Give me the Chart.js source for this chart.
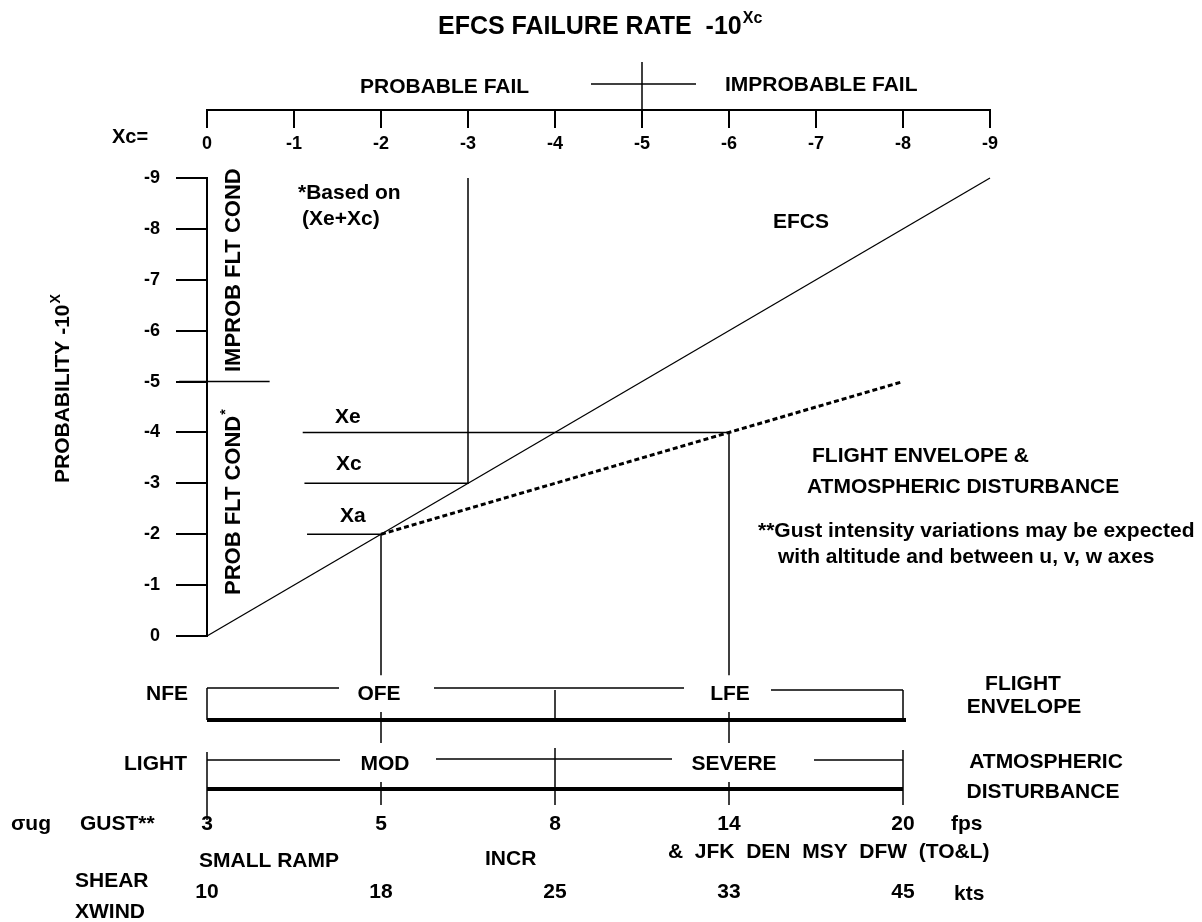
<!DOCTYPE html>
<html lang="en">
<head>
    <meta charset="UTF-8">
    <title>EFCS Failure Rate</title>
    <script src="https://cdn.jsdelivr.net/npm/chart.js"></script>
    <style>
        body {
            margin: 0;
            background-color: #ffffff;
        }
        .chart-box {
            position: relative;
            width: 1202px;
            height: 922px;
        }
    </style>
</head>
<body>
    <div class="chart-box">
        <canvas id="efcsChart"></canvas>
    </div>

    <script>
        // Exponent ticks for both axes
        const xcTicks = [0, -1, -2, -3, -4, -5, -6, -7, -8, -9];
        const probTicks = [0, -1, -2, -3, -4, -5, -6, -7, -8, -9];

        // EFCS line (Xe + Xc)
        const efcsLine = [{ x: 0, y: 0 }, { x: -9, y: -9 }];
        // Flight envelope & atmospheric disturbance (dotted)
        const envelopeLine = [{ x: -2, y: -2 }, { x: -6, y: -4 }, { x: -8, y: -5 }];
        // Xe, Xc, Xa guide lines
        const xeLine = [{ x: -1.1, y: -4 }, { x: -6, y: -4 }, { x: -6, y: 0.77 }];
        const xcLine = [{ x: -1.12, y: -3 }, { x: -3, y: -3 }, { x: -3, y: -9 }];
        const xaLine = [{ x: -1.15, y: -2 }, { x: -2, y: -2 }, { x: -2, y: 0.77 }];
        // split between probable / improbable flight conditions
        const condSplit = [{ x: 0.32, y: -5 }, { x: -0.72, y: -5 }];

        // Bottom scales, placed under Xc positions
        const gustXc = [0, -2, -4, -6, -8];
        const gustFps = [3, 5, 8, 14, 20];
        const xwindKts = [10, 18, 25, 33, 45];

        const FONT = '"Liberation Sans", Arial, Helvetica, sans-serif';

        function text(ctx, s, x, y, size, align) {
            ctx.font = 'bold ' + size + 'px ' + FONT;
            ctx.textAlign = align || 'left';
            ctx.textBaseline = 'alphabetic';
            ctx.fillText(s, x, y);
            return ctx.measureText(s).width;
        }

        function line(ctx, x1, y1, x2, y2, w) {
            ctx.lineWidth = w;
            ctx.beginPath();
            ctx.moveTo(x1, y1);
            ctx.lineTo(x2, y2);
            ctx.stroke();
        }

        function vtext(ctx, s, x, y, size, sup) {
            // rotated text reading bottom to top, x is the baseline
            ctx.save();
            ctx.translate(x, y);
            ctx.rotate(-Math.PI / 2);
            const w = text(ctx, s, 0, 0, size);
            if (sup) text(ctx, sup, w + 1, -size * 0.45, Math.round(size * 0.65));
            ctx.restore();
        }

        const annotations = {
            id: 'annotations',
            afterDraw(chart) {
                const ctx = chart.ctx;
                const xs = chart.scales.x;
                const px = v => xs.getPixelForValue(v);
                ctx.save();
                ctx.fillStyle = '#000';
                ctx.strokeStyle = '#000';

                // title
                const tw = text(ctx, 'EFCS FAILURE RATE  -10', 438, 34, 25);
                text(ctx, 'Xc', 438 + tw + 1, 23, 16);

                // top band
                text(ctx, 'PROBABLE FAIL', 360, 93, 21);
                text(ctx, 'IMPROBABLE FAIL', 725, 91, 21);
                line(ctx, px(-5), 62, px(-5), 110, 1.5);
                line(ctx, 591, 84, 696, 84, 1.5);
                text(ctx, 'Xc=', 112, 143, 20);

                // left titles
                vtext(ctx, 'PROBABILITY -10', 69, 483, 21, 'X');
                vtext(ctx, 'IMPROB FLT COND', 240, 372, 22);
                vtext(ctx, 'PROB FLT COND', 240, 595, 22, '*');

                // plot labels
                text(ctx, '*Based on', 298, 199, 21);
                text(ctx, '(Xe+Xc)', 302, 225, 21);
                text(ctx, 'Xe', 335, 423, 21);
                text(ctx, 'Xc', 336, 470, 21);
                text(ctx, 'Xa', 340, 522, 21);
                text(ctx, 'EFCS', 773, 228, 21);

                text(ctx, 'FLIGHT ENVELOPE &', 812, 462, 21);
                text(ctx, 'ATMOSPHERIC DISTURBANCE', 807, 493, 21);
                text(ctx, '**Gust intensity variations may be expected', 758, 537, 21);
                text(ctx, 'with altitude and between u, v, w axes', 778, 563, 21);

                // flight envelope bracket
                text(ctx, 'NFE', 188, 700, 21, 'right');
                text(ctx, 'OFE', px(-2) - 2, 700, 21, 'center');
                text(ctx, 'LFE', px(-6) + 1, 700, 21, 'center');
                line(ctx, px(0), 688, px(0), 720, 1.5);
                line(ctx, px(-4), 690, px(-4), 720, 1.5);
                line(ctx, px(-8), 690, px(-8), 720, 1.5);
                line(ctx, px(0), 688, px(-2) - 42, 688, 1.5);
                line(ctx, px(-2) + 53, 688, px(-6) - 45, 688, 1.5);
                line(ctx, px(-6) + 42, 690, px(-8), 690, 1.5);
                line(ctx, px(-2), 712, px(-2), 743, 1.5);
                line(ctx, px(-6), 712, px(-6), 743, 1.5);
                line(ctx, px(0), 720, px(-8) + 3, 720, 4);
                text(ctx, 'FLIGHT', 1023, 690, 21, 'center');
                text(ctx, 'ENVELOPE', 1024, 713, 21, 'center');

                // atmospheric disturbance bracket
                text(ctx, 'LIGHT', 187, 770, 21, 'right');
                text(ctx, 'MOD', px(-2) + 4, 770, 21, 'center');
                text(ctx, 'SEVERE', px(-6) + 5, 770, 21, 'center');
                line(ctx, px(0), 752, px(0), 820, 1.5);
                line(ctx, px(-4), 748, px(-4), 805, 1.5);
                line(ctx, px(-8), 750, px(-8), 805, 1.5);
                line(ctx, px(0), 760, px(-2) - 41, 760, 1.5);
                line(ctx, px(-2) + 55, 759, px(-6) - 57, 759, 1.5);
                line(ctx, px(-6) + 85, 760, px(-8), 760, 1.5);
                line(ctx, px(-2), 782, px(-2), 805, 1.5);
                line(ctx, px(-6), 782, px(-6), 805, 1.5);
                line(ctx, px(0), 789, px(-8), 789, 4);
                text(ctx, 'ATMOSPHERIC', 1046, 768, 21, 'center');
                text(ctx, 'DISTURBANCE', 1043, 798, 21, 'center');

                // gust and crosswind scales
                text(ctx, '\u03c3ug', 11, 830, 21);
                text(ctx, 'GUST**', 80, 830, 21);
                gustXc.forEach((v, i) => {
                    text(ctx, String(gustFps[i]), px(v), 830, 21, 'center');
                    text(ctx, String(xwindKts[i]), px(v), 898, 21, 'center');
                });
                text(ctx, 'fps', 951, 830, 21);
                text(ctx, 'kts', 954, 900, 21);
                text(ctx, 'SMALL RAMP', 199, 867, 21);
                text(ctx, 'INCR', 485, 865, 21);
                text(ctx, '&  JFK  DEN  MSY  DFW  (TO&L)', 668, 858, 21);
                text(ctx, 'SHEAR', 75, 887, 21);
                text(ctx, 'XWIND', 75, 918, 21);

                ctx.restore();
            }
        };

        function lineSet(data, width, dash) {
            return {
                data: data,
                showLine: true,
                borderColor: '#000',
                borderWidth: width,
                borderDash: dash || [],
                pointRadius: 0,
                tension: 0,
                clip: false
            };
        }

        const tickFont = { family: FONT, size: 18, weight: 'bold' };

        new Chart(document.getElementById('efcsChart'), {
            type: 'scatter',
            data: {
                datasets: [
                    lineSet(efcsLine, 1.3),
                    lineSet(envelopeLine, 3, [5, 3]),
                    lineSet(xeLine, 1.5),
                    lineSet(xcLine, 1.5),
                    lineSet(xaLine, 1.5),
                    lineSet(condSplit, 1.5)
                ]
            },
            options: {
                responsive: true,
                maintainAspectRatio: false,
                animation: false,
                layout: { padding: { left: 0, right: 212, top: 178, bottom: 286 } },
                plugins: {
                    legend: { display: false },
                    tooltip: { enabled: false }
                },
                scales: {
                    x: {
                        axis: 'x',
                        type: 'linear',
                        min: Math.min(...xcTicks),
                        max: Math.max(...xcTicks),
                        reverse: true,
                        position: { y: -10.34 },
                        border: { display: true, color: '#000', width: 2 },
                        grid: { drawOnChartArea: false, color: '#000', lineWidth: 2, tickLength: 17 },
                        ticks: { stepSize: 1, autoSkip: false, maxRotation: 0, padding: 6, color: '#000', font: tickFont }
                    },
                    y: {
                        type: 'linear',
                        min: Math.min(...probTicks),
                        max: Math.max(...probTicks),
                        reverse: true,
                        position: 'left',
                        border: { display: true, color: '#000', width: 2 },
                        grid: { drawOnChartArea: false, color: '#000', lineWidth: 2, tickLength: 31 },
                        ticks: { stepSize: 1, padding: 16, color: '#000', font: tickFont },
                        afterFit: scale => { scale.width = 207; }
                    }
                }
            },
            plugins: [annotations]
        });
    </script>
</body>
</html>
